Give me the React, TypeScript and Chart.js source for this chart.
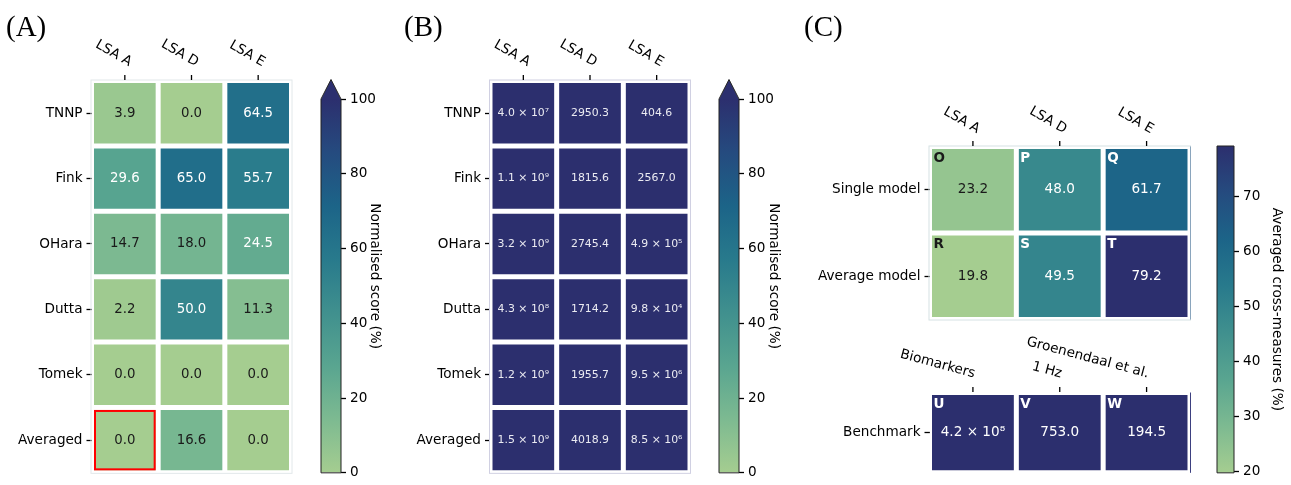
import React, { useEffect, useRef } from "react";
import { Chart, registerables } from "chart.js";

Chart.register(...registerables);

// ---------------- data ----------------
const lsaColumns = ["LSA A", "LSA D", "LSA E"];
const modelRows = ["TNNP", "Fink", "OHara", "Dutta", "Tomek", "Averaged"];
const normalisedScores = [
  [3.9, 0.0, 64.5],
  [29.6, 65.0, 55.7],
  [14.7, 18.0, 24.5],
  [2.2, 50.0, 11.3],
  [0.0, 0.0, 0.0],
  [0.0, 16.6, 0.0],
];
const rawScores = [
  [4.0e7, 2950.3, 404.6],
  [1.1e9, 1815.6, 2567.0],
  [3.2e9, 2745.4, 4.9e5],
  [4.3e8, 1714.2, 9.8e4],
  [1.2e9, 1955.7, 9.5e6],
  [1.5e9, 4018.9, 8.5e6],
];
const crossRows = ["Single model", "Average model"];
const crossValues = [
  [23.2, 48.0, 61.7],
  [19.8, 49.5, 79.2],
];
const crossLetters = [
  ["O", "P", "Q"],
  ["R", "S", "T"],
];
const benchColumns = ["Biomarkers", "1 Hz", "Groenendaal et al."];
const benchRows = ["Benchmark"];
const benchValues = [[4.2e8, 753.0, 194.5]];
const benchLetters = [["U", "V", "W"]];
const scoreRange = [0, 100];
const scoreTicks = [0, 20, 40, 60, 80, 100];
const crossRange = [19.8, 79.2];
const crossTicks = [20, 30, 40, 50, 60, 70];
const highlightCell = [5, 0]; // row, column in panel A

// ---------------- styles ----------------
const PAGE_W = 1291;
const PAGE_H = 485;
const FONT = "'DejaVu Sans', sans-serif";
const TICK_SIZE = 13.6;

const CREST: [number, number[]][] = [
  [0, [165, 205, 144]],
  [0.143, [125, 186, 145]],
  [0.286, [89, 165, 144]],
  [0.429, [64, 144, 142]],
  [0.571, [40, 122, 140]],
  [0.714, [28, 100, 136]],
  [0.857, [37, 75, 127]],
  [1, [44, 47, 110]],
];

function crest(t: number): string {
  const u = Math.max(0, Math.min(1, t));
  for (let i = 1; i < CREST.length; i++) {
    const [p1, c1] = CREST[i];
    const [p0, c0] = CREST[i - 1];
    if (u <= p1) {
      const f = (u - p0) / (p1 - p0);
      const c = c0.map((v, k) => Math.round(v + (c1[k] - v) * f));
      return `rgb(${c[0]},${c[1]},${c[2]})`;
    }
  }
  const c = CREST[CREST.length - 1][1];
  return `rgb(${c[0]},${c[1]},${c[2]})`;
}

function norm(v: number, lo: number, hi: number) {
  return Math.max(0, Math.min(1, (v - lo) / (hi - lo)));
}

const SUP = "⁰¹²³⁴⁵⁶⁷⁸⁹";
function fmt(v: number): string {
  if (v >= 1e4) {
    const e = Math.floor(Math.log10(v));
    const m = v / Math.pow(10, e);
    return m.toFixed(1) + " × 10" + String(e).split("").map((d) => SUP[+d]).join("");
  }
  return v.toFixed(1);
}

interface HeatSpec {
  rows: string[];
  cols: string[];
  values: number[][];
  lo: number;
  hi: number;
  area: { l: number; t: number; r: number; b: number };
  valueFont: string;
  darkText: string;
  lightText: string;
  letters?: string[][];
  highlight?: number[];
  colRot: number;
  colDx: number;
  colDy: number;
  frameColor?: string;
  rightColor?: string;
  panel?: string;
  panelX?: number;
  panelY?: number;
}

function heatPlugin(s: HeatSpec) {
  return {
    id: "heatDecor",
    afterDatasetsDraw(chart: any) {
      const ctx = chart.ctx as CanvasRenderingContext2D;
      const xs = chart.scales.x;
      const ys = chart.scales.y;
      const ca = chart.chartArea;
      const bandH = (ca.bottom - ca.top) / s.rows.length;
      ctx.save();
      // frame
      if (s.frameColor) {
        ctx.strokeStyle = s.frameColor;
        ctx.lineWidth = 1;
        ctx.strokeRect(ca.left - 0.5, ca.top - 0.5, ca.right - ca.left + 1, ca.bottom - ca.top + 1);
      }
      if (s.rightColor) {
        ctx.strokeStyle = s.rightColor;
        ctx.lineWidth = 1;
        ctx.beginPath();
        ctx.moveTo(ca.right + 0.5, ca.top);
        ctx.lineTo(ca.right + 0.5, ca.bottom);
        ctx.stroke();
      }
      // cell annotations
      s.rows.forEach((_, ri) => {
        s.cols.forEach((__, ci) => {
          const x0 = xs.getPixelForValue(ci);
          const x1 = xs.getPixelForValue(ci + 1);
          const cy = ys.getPixelForValue(ri);
          const v = s.values[ri][ci];
          const col = norm(v, s.lo, s.hi) < 0.21 ? s.darkText : s.lightText;
          ctx.fillStyle = col;
          ctx.font = s.valueFont;
          ctx.textAlign = "center";
          ctx.textBaseline = "middle";
          ctx.fillText(fmt(v), (x0 + x1) / 2, cy);
          if (s.letters) {
            ctx.font = `bold 13.5px ${FONT}`;
            ctx.textAlign = "left";
            ctx.textBaseline = "alphabetic";
            ctx.fillText(s.letters[ri][ci], x0 + 4, cy - bandH / 2 + 15.2);
          }
        });
      });
      // highlight
      if (s.highlight) {
        const [ri, ci] = s.highlight;
        const x0 = xs.getPixelForValue(ci) + 2.5;
        const x1 = xs.getPixelForValue(ci + 1) - 2.5;
        const cy = ys.getPixelForValue(ri);
        const y0 = cy - bandH / 2 + 2.5;
        const y1 = cy + bandH / 2 - 2.5;
        ctx.strokeStyle = "#ff0000";
        ctx.lineWidth = 2;
        ctx.strokeRect(x0 + 1, y0 + 1, x1 - x0 - 2, y1 - y0 - 2);
      }
      // top column labels
      s.cols.forEach((c, ci) => {
        const x = xs.getPixelForValue(ci + 0.5);
        ctx.strokeStyle = "#000";
        ctx.lineWidth = 1.3;
        ctx.beginPath();
        ctx.moveTo(x, ca.top - 0.5);
        ctx.lineTo(x, ca.top - 5.5);
        ctx.stroke();
        ctx.save();
        ctx.translate(x + s.colDx, ca.top - s.colDy);
        ctx.rotate((s.colRot * Math.PI) / 180);
        ctx.fillStyle = "#000";
        ctx.font = `${TICK_SIZE}px ${FONT}`;
        ctx.textAlign = "right";
        ctx.textBaseline = "alphabetic";
        ctx.fillText(c, 0, 0);
        ctx.restore();
      });
      // panel label
      if (s.panel) {
        ctx.fillStyle = "#000";
        ctx.font = "29px 'Liberation Serif', 'DejaVu Serif', serif";
        ctx.textAlign = "left";
        ctx.textBaseline = "alphabetic";
        ctx.fillText(s.panel, s.panelX || 0, s.panelY || 0);
      }
      ctx.restore();
    },
  };
}

function heatConfig(s: HeatSpec): any {
  const axisW = s.area.l;
  return {
    type: "bar",
    data: {
      labels: s.rows,
      datasets: s.cols.map((c, ci) => ({
        label: c,
        data: s.rows.map(() => [ci, ci + 1]),
        backgroundColor: s.rows.map((_, ri) => crest(norm(s.values[ri][ci], s.lo, s.hi))),
        borderColor: "#ffffff",
        borderWidth: 2.5,
        borderSkipped: false,
        inflateAmount: 0,
        grouped: false,
        categoryPercentage: 1,
        barPercentage: 1,
      })),
    },
    options: {
      indexAxis: "y",
      responsive: false,
      animation: false,
      devicePixelRatio: 1,
      events: [],
      layout: {
        padding: {
          left: 0,
          right: PAGE_W - s.area.r,
          top: s.area.t,
          bottom: PAGE_H - s.area.b,
        },
      },
      plugins: { legend: { display: false }, tooltip: { enabled: false }, title: { display: false } },
      scales: {
        x: { type: "linear", min: 0, max: s.cols.length, display: false },
        y: {
          type: "category",
          position: "left",
          offset: true,
          afterFit: (sc: any) => {
            sc.width = axisW;
          },
          ticks: { font: { family: FONT, size: TICK_SIZE }, color: "#000", padding: 4, autoSkip: false },
          grid: {
            display: true,
            drawOnChartArea: false,
            drawTicks: true,
            tickLength: 5,
            tickWidth: 1.3,
            tickColor: "#000",
            offset: false,
          },
          border: { display: false },
        },
      },
    },
    plugins: [heatPlugin(s)],
  };
}

interface BarSpec {
  l: number;
  r: number;
  t: number;
  b: number;
  lo: number;
  hi: number;
  ticks: number[];
  title: string;
  titleX: number;
  tip?: number;
}

function barPlugin(s: BarSpec) {
  return {
    id: "cbarDecor",
    afterDatasetsDraw(chart: any) {
      const ctx = chart.ctx as CanvasRenderingContext2D;
      const ca = chart.chartArea;
      ctx.save();
      const mid = (ca.left + ca.right) / 2;
      if (s.tip !== undefined) {
        ctx.fillStyle = crest(1);
        ctx.beginPath();
        ctx.moveTo(ca.left, ca.top + 0.5);
        ctx.lineTo(mid, s.tip);
        ctx.lineTo(ca.right, ca.top + 0.5);
        ctx.closePath();
        ctx.fill();
      }
      ctx.strokeStyle = "#222";
      ctx.lineWidth = 1;
      ctx.beginPath();
      ctx.moveTo(ca.left, ca.bottom);
      ctx.lineTo(ca.left, ca.top);
      if (s.tip !== undefined) ctx.lineTo(mid, s.tip);
      ctx.lineTo(ca.right, ca.top);
      ctx.lineTo(ca.right, ca.bottom);
      ctx.closePath();
      ctx.stroke();
      const topExt = s.tip !== undefined ? s.tip : ca.top;
      ctx.translate(s.titleX, (topExt + ca.bottom) / 2);
      ctx.rotate(Math.PI / 2);
      ctx.fillStyle = "#000";
      ctx.font = `${TICK_SIZE}px ${FONT}`;
      ctx.textAlign = "center";
      ctx.textBaseline = "middle";
      ctx.fillText(s.title, 0, 0);
      ctx.restore();
    },
  };
}

function barConfig(s: BarSpec): any {
  const axisW = 50;
  return {
    type: "bar",
    data: {
      labels: [s.title],
      datasets: [
        {
          data: [[s.lo, s.hi]],
          backgroundColor: (c: any) => {
            const ch = c.chart;
            if (!ch.chartArea) return crest(0.5);
            const ys = ch.scales.y;
            const g = ch.ctx.createLinearGradient(0, ys.getPixelForValue(s.lo), 0, ys.getPixelForValue(s.hi));
            CREST.forEach(([p, rgb]) => g.addColorStop(p, `rgb(${rgb[0]},${rgb[1]},${rgb[2]})`));
            return g;
          },
          borderWidth: 0,
          inflateAmount: 0,
          categoryPercentage: 1,
          barPercentage: 1,
        },
      ],
    },
    options: {
      responsive: false,
      animation: false,
      devicePixelRatio: 1,
      events: [],
      layout: {
        padding: { left: s.l, right: PAGE_W - s.r - axisW, top: s.t, bottom: PAGE_H - s.b },
      },
      plugins: { legend: { display: false }, tooltip: { enabled: false } },
      scales: {
        x: { type: "category", display: false, offset: true },
        y: {
          type: "linear",
          position: "right",
          min: s.lo,
          max: s.hi,
          afterBuildTicks: (sc: any) => {
            sc.ticks = s.ticks.map((v) => ({ value: v }));
          },
          afterFit: (sc: any) => {
            sc.width = axisW;
          },
          ticks: { font: { family: FONT, size: TICK_SIZE }, color: "#000", padding: 4 },
          grid: { drawOnChartArea: false, drawTicks: true, tickLength: 5, tickWidth: 1.3, tickColor: "#000" },
          border: { display: false },
        },
      },
    },
    plugins: [barPlugin(s)],
  };
}

const heatSpecs: HeatSpec[] = [
  {
    rows: modelRows,
    cols: lsaColumns,
    values: normalisedScores,
    lo: scoreRange[0],
    hi: scoreRange[1],
    area: { l: 91.5, t: 80.5, r: 291.5, b: 478 },
    valueFont: `13.3px ${FONT}`,
    darkText: "#1a1a1a",
    lightText: "#ffffff",
    highlight: highlightCell,
    colRot: 30,
    colDx: 4,
    colDy: 14,
    frameColor: "#e2e8ea",
    panel: "(A)",
    panelX: 6,
    panelY: 36,
  },
  {
    rows: modelRows,
    cols: lsaColumns,
    values: rawScores,
    lo: scoreRange[0],
    hi: scoreRange[1],
    area: { l: 490, t: 80.5, r: 690, b: 478 },
    valueFont: `10.9px ${FONT}`,
    darkText: "#1a1a1a",
    lightText: "#ebebf2",
    colRot: 30,
    colDx: 4,
    colDy: 14,
    frameColor: "#d0d0e2",
    panel: "(B)",
    panelX: 404,
    panelY: 36,
  },
  {
    rows: crossRows,
    cols: lsaColumns,
    values: crossValues,
    lo: crossRange[0],
    hi: crossRange[1],
    area: { l: 929.5, t: 146.5, r: 1190, b: 319.5 },
    valueFont: `13.6px ${FONT}`,
    darkText: "#1a1a1a",
    lightText: "#ffffff",
    letters: crossLetters,
    colRot: 30,
    colDx: 4,
    colDy: 13,
    frameColor: "#d6e2e4",
    rightColor: "#8aa5bd",
    panel: "(C)",
    panelX: 804,
    panelY: 36,
  },
  {
    rows: benchRows,
    cols: benchColumns,
    values: benchValues,
    lo: crossRange[0],
    hi: crossRange[1],
    area: { l: 929.5, t: 392.5, r: 1190, b: 479.5 },
    valueFont: `13.6px ${FONT}`,
    darkText: "#1a1a1a",
    lightText: "#ffffff",
    letters: benchLetters,
    colRot: 15,
    colDx: 1,
    colDy: 15,
    rightColor: "#3d4080",
  },
];

const barSpecs: BarSpec[] = [
  { l: 321, r: 341, t: 99, b: 478, lo: scoreRange[0], hi: scoreRange[1], ticks: scoreTicks, title: "Normalised score (%)", titleX: 375, tip: 79.5 },
  { l: 719, r: 739, t: 99, b: 478, lo: scoreRange[0], hi: scoreRange[1], ticks: scoreTicks, title: "Normalised score (%)", titleX: 774, tip: 79.5 },
  { l: 1217, r: 1234, t: 146, b: 479, lo: crossRange[0], hi: crossRange[1], ticks: crossTicks, title: "Averaged cross-measures (%)", titleX: 1276.5 },
];

export default function App() {
  const canvases = useRef<(HTMLCanvasElement | null)[]>([]);

  useEffect(() => {
    const charts: Chart[] = [];
    const configs = [...heatSpecs.map(heatConfig), ...barSpecs.map(barConfig)];
    configs.forEach((cfg, i) => {
      const el = canvases.current[i];
      if (el) charts.push(new Chart(el, cfg));
    });
    return () => {
      charts.forEach((c) => c.destroy());
    };
  }, []);

  const count = heatSpecs.length + barSpecs.length;
  return (
    <div
      style={{
        position: "fixed",
        left: 0,
        top: 0,
        width: PAGE_W,
        height: PAGE_H,
        background: "#ffffff",
        overflow: "hidden",
      }}
    >
      {Array.from({ length: count }, (_, i) => (
        <canvas
          key={i}
          ref={(el) => {
            canvases.current[i] = el;
          }}
          width={PAGE_W}
          height={PAGE_H}
          style={{ position: "absolute", left: 0, top: 0, width: PAGE_W, height: PAGE_H }}
        />
      ))}
    </div>
  );
}
